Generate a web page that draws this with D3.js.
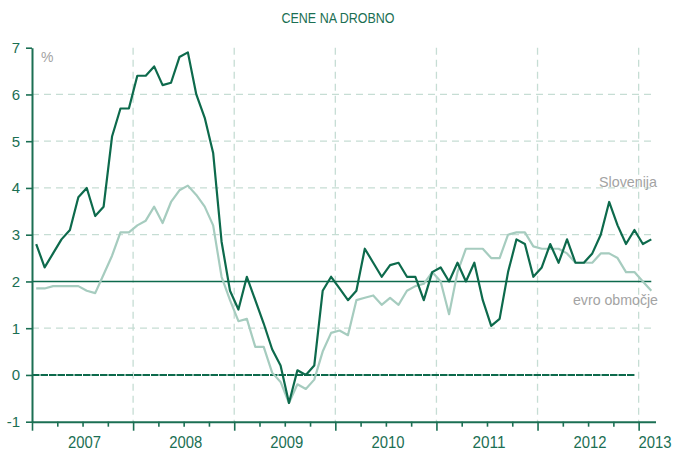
<!DOCTYPE html>
<html>
<head>
<meta charset="utf-8">
<script src="https://cdnjs.cloudflare.com/ajax/libs/d3/7.8.5/d3.min.js"></script>
<style>
    body { margin: 0; background: #fff; }
    svg { display: block; }
</style>
</head>
<body>
<svg id="chart" width="677" height="450"></svg>
<script>
// monthly values, Jan 2007 - Feb 2013
var years = ["2007", "2008", "2009", "2010", "2011", "2012", "2013"];
var slovenija = [
    2.8, 2.3, 2.6, 2.9, 3.1, 3.8, 4.0, 3.4, 3.6, 5.1, 5.7, 5.7,
    6.4, 6.4, 6.6, 6.2, 6.25, 6.8, 6.9, 6.0, 5.5, 4.75, 2.85, 1.8,
    1.4, 2.1, 1.6, 1.1, 0.55, 0.2, -0.6, 0.1, 0.0, 0.2, 1.8, 2.1,
    1.85, 1.6, 1.8, 2.7, 2.4, 2.1, 2.35, 2.4, 2.1, 2.1, 1.6, 2.2,
    2.3, 2.0, 2.4, 2.0, 2.4, 1.6, 1.05, 1.2, 2.2, 2.9, 2.8, 2.1,
    2.3, 2.8, 2.4, 2.9, 2.4, 2.4, 2.6, 3.0, 3.7, 3.2, 2.8, 3.1,
    2.8, 2.9
];
var evroObmocje = [
    1.85, 1.85, 1.9, 1.9, 1.9, 1.9, 1.8, 1.75, 2.15, 2.55, 3.05, 3.05,
    3.2, 3.3, 3.6, 3.25, 3.7, 3.95, 4.05, 3.85, 3.6, 3.2, 2.1, 1.6,
    1.15, 1.2, 0.6, 0.6, 0.05, -0.15, -0.6, -0.2, -0.3, -0.1, 0.5, 0.9,
    0.95, 0.85, 1.6, 1.65, 1.7, 1.5, 1.65, 1.5, 1.8, 1.9, 1.95, 2.2,
    2.0, 1.3, 2.2, 2.7, 2.7, 2.7, 2.5, 2.5, 3.0, 3.05, 3.05, 2.75,
    2.7, 2.7, 2.7, 2.6, 2.4, 2.4, 2.4, 2.6, 2.6, 2.5, 2.2, 2.2,
    2.0, 1.8
];
var yTicks = [-1, 0, 1, 2, 3, 4, 5, 6, 7];
var gridValues = [1, 3, 4, 5, 6];

var font = "'Liberation Sans Narrow', 'Liberation Sans', Arial, sans-serif";
var green = "#1b6f53";
var dark = "#0d6a4c";
var light = "#a6ccbf";
var gridColor = "#c6ddd4";
var grey = "#a3a3a3";

var svg = d3.select("#chart");

var x = d3.scaleLinear().domain([0, 74]).range([32, 655.5]);
var y = d3.scaleLinear().domain([-1, 7]).range([421.7, 47.7]);

// grid
svg.append("g").selectAll("line.hgrid")
    .data(gridValues).enter().append("line")
    .attr("class", "hgrid")
    .attr("x1", x(0)).attr("x2", x(74))
    .attr("y1", function(d) { return y(d); })
    .attr("y2", function(d) { return y(d); })
    .attr("stroke", gridColor)
    .attr("stroke-width", 1.3)
    .attr("stroke-dasharray", "7,5");

svg.append("g").selectAll("line.vgrid")
    .data(d3.range(1, 7)).enter().append("line")
    .attr("class", "vgrid")
    .attr("x1", function(d) { return x(d * 12); })
    .attr("x2", function(d) { return x(d * 12); })
    .attr("y1", y(7)).attr("y2", y(-1))
    .attr("stroke", gridColor)
    .attr("stroke-width", 1.3)
    .attr("stroke-dasharray", "7,5");

// reference lines at 0 and 2
svg.append("line")
    .attr("x1", x(0)).attr("x2", x(71.5))
    .attr("y1", y(0)).attr("y2", y(0))
    .attr("stroke", dark)
    .attr("stroke-width", 2)
    .attr("stroke-dasharray", "7.5,1");

svg.append("line")
    .attr("x1", x(0)).attr("x2", x(73.5))
    .attr("y1", y(2)).attr("y2", y(2))
    .attr("stroke", dark)
    .attr("stroke-width", 1.4);

// series
var line = d3.line()
    .x(function(d, i) { return x(i + 0.5); })
    .y(function(d) { return y(d); });

svg.append("path")
    .attr("d", line(evroObmocje))
    .attr("fill", "none")
    .attr("stroke", light)
    .attr("stroke-width", 2.2)
    .attr("stroke-linejoin", "round");

svg.append("path")
    .attr("d", line(slovenija))
    .attr("fill", "none")
    .attr("stroke", dark)
    .attr("stroke-width", 2.2)
    .attr("stroke-linejoin", "round");

// axes
var yAxis = svg.append("g")
    .attr("transform", "translate(" + x(0) + ",0)")
    .call(d3.axisLeft(y).tickValues(yTicks).tickFormat(function(d) { return String(d); })
        .tickSize(6).tickSizeOuter(0).tickPadding(6));

var xAxis = svg.append("g")
    .attr("transform", "translate(0," + y(-1) + ")")
    .call(d3.axisBottom(x).tickValues(d3.range(0, 73, 3)).tickFormat("").tickSizeOuter(0));

xAxis.selectAll(".tick line")
    .attr("y2", function(d) { return d % 12 === 0 ? 9 : 5; });

[yAxis, xAxis].forEach(function(a) {
    a.select(".domain").attr("stroke", green).attr("stroke-width", 2);
    a.selectAll(".tick line").attr("stroke", green).attr("stroke-width", 1.6);
});

yAxis.selectAll(".tick text")
    .attr("fill", green)
    .attr("font-family", font)
    .attr("font-size", 15);

svg.append("g").selectAll("text.year")
    .data(years).enter().append("text")
    .attr("class", "year")
    .attr("x", function(d, i) { return i < 6 ? x(i * 12 + 6) + 2 : 655; })
    .attr("y", 448)
    .attr("text-anchor", "middle")
    .attr("fill", green)
    .attr("font-family", font)
    .attr("font-size", 16)
    .attr("textLength", 33)
    .attr("lengthAdjust", "spacingAndGlyphs")
    .text(function(d) { return d; });

// labels
svg.append("text")
    .attr("x", 338).attr("y", 23)
    .attr("text-anchor", "middle")
    .attr("fill", green)
    .attr("font-family", font)
    .attr("font-size", 14)
    .attr("textLength", 113)
    .attr("lengthAdjust", "spacingAndGlyphs")
    .text("CENE NA DROBNO");

svg.append("text")
    .attr("x", 41).attr("y", 62)
    .attr("fill", grey)
    .attr("font-family", font)
    .attr("font-size", 14)
    .text("%");

svg.append("text")
    .attr("x", 657).attr("y", 187)
    .attr("text-anchor", "end")
    .attr("fill", grey)
    .attr("font-family", font)
    .attr("font-size", 15)
    .attr("textLength", 58)
    .attr("lengthAdjust", "spacingAndGlyphs")
    .text("Slovenija");

svg.append("text")
    .attr("x", 658).attr("y", 305)
    .attr("text-anchor", "end")
    .attr("fill", grey)
    .attr("font-family", font)
    .attr("font-size", 15)
    .attr("textLength", 85)
    .attr("lengthAdjust", "spacingAndGlyphs")
    .text("evro območje");
</script>
</body>
</html>
